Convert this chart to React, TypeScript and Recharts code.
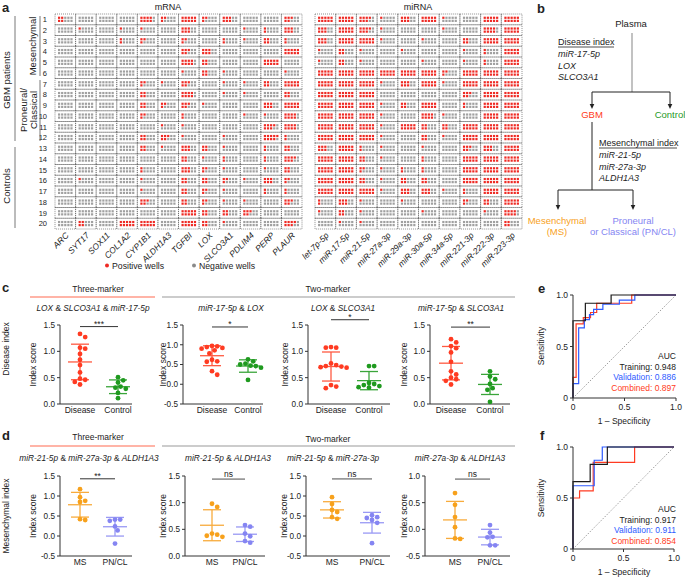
import React from 'react';
import { ScatterChart, Scatter, XAxis, YAxis, ErrorBar, ReferenceLine, LineChart, Line } from 'recharts';

const F = "'Liberation Sans', Arial, Helvetica, sans-serif";
const RED = '#ff3b22';
const RED_BAR = '#ff5a42';
const GREEN = '#1f9a1f';
const GREEN_BAR = '#3aa53a';
const ORANGE = '#f7a11c';
const ORANGE_BAR = '#f8ab3c';
const LAV = '#8585f2';
const LAV_BAR = '#9999f4';
const WELL_RED = '#ee2a24';
const WELL_GRAY = '#a0a0a0';

// ---------- Panel a data ----------
const mrnaGenes = ['ARC', 'SYT17', 'SOX11', 'COL1A2', 'CYP1B1', 'ALDH1A3', 'TGFBI', 'LOX', 'SLCO3A1', 'PDLIM4', 'PERP', 'PLAUR'];
const mirnaGenes = ['let-7p-5p', 'miR-17-5p', 'miR-21-5p', 'miR-27a-3p', 'miR-29a-3p', 'miR-30a-5p', 'miR-34a-5p', 'miR-221-3p', 'miR-222-3p', 'miR-223-3p'];
const sampleIds = [1, 2, 3, 4, 5, 6, 7, 8, 9, 10, 11, 12, 13, 14, 15, 16, 17, 18, 19, 20];
const mrnaPositive = [
  [4, 0, 0, 0, 8, 3, 10, 3, 6, 0, 0, 5],
  [0, 1, 0, 1, 1, 0, 6, 0, 0, 1, 2, 6],
  [0, 0, 0, 2, 3, 0, 3, 0, 2, 1, 4, 2],
  [0, 0, 0, 0, 0, 0, 5, 6, 0, 0, 0, 10],
  [0, 0, 0, 0, 0, 0, 8, 4, 0, 0, 10, 0],
  [0, 0, 0, 0, 0, 0, 1, 4, 1, 0, 0, 1],
  [0, 0, 0, 0, 3, 1, 5, 0, 1, 1, 4, 10],
  [0, 0, 0, 0, 4, 0, 8, 0, 1, 1, 0, 4],
  [0, 0, 0, 0, 4, 3, 5, 1, 0, 0, 6, 10],
  [0, 0, 0, 0, 3, 0, 2, 0, 0, 1, 1, 8],
  [0, 0, 0, 0, 0, 1, 1, 0, 0, 0, 7, 8],
  [0, 0, 0, 0, 4, 5, 1, 0, 1, 0, 9, 2],
  [0, 0, 0, 0, 4, 1, 6, 4, 1, 0, 2, 4],
  [0, 0, 0, 0, 0, 0, 4, 1, 2, 0, 2, 7],
  [0, 0, 0, 0, 2, 0, 6, 3, 1, 0, 1, 4],
  [0, 1, 0, 0, 1, 0, 4, 4, 3, 1, 6, 3],
  [0, 0, 0, 0, 1, 0, 4, 3, 1, 0, 2, 2],
  [0, 0, 0, 0, 5, 0, 4, 3, 1, 1, 0, 5],
  [0, 0, 0, 0, 0, 0, 10, 4, 4, 5, 0, 0],
  [0, 4, 0, 10, 10, 0, 10, 4, 1, 0, 0, 7],
];
const mirnaPositive = [
  [10, 10, 7, 1, 6, 10, 1, 0, 10, 10],
  [6, 10, 7, 1, 0, 0, 1, 0, 8, 10],
  [6, 10, 10, 1, 0, 1, 0, 4, 10, 10],
  [1, 4, 1, 0, 1, 0, 0, 1, 2, 10],
  [1, 4, 1, 0, 0, 1, 0, 1, 2, 10],
  [10, 10, 10, 10, 10, 10, 3, 10, 10, 10],
  [10, 10, 10, 1, 6, 10, 1, 10, 10, 10],
  [10, 10, 10, 0, 0, 0, 0, 5, 10, 10],
  [10, 10, 10, 1, 4, 10, 0, 2, 10, 10],
  [10, 10, 10, 1, 0, 8, 1, 0, 10, 10],
  [10, 10, 10, 1, 10, 4, 4, 10, 10, 10],
  [10, 10, 10, 1, 0, 4, 1, 10, 10, 10],
  [6, 10, 2, 1, 0, 1, 0, 5, 6, 10],
  [10, 10, 4, 1, 0, 2, 0, 10, 10, 10],
  [10, 10, 3, 1, 2, 2, 0, 10, 10, 10],
  [10, 10, 4, 1, 4, 4, 0, 10, 10, 10],
  [10, 10, 10, 1, 6, 6, 1, 2, 10, 10],
  [2, 6, 1, 0, 1, 0, 0, 3, 4, 10],
  [1, 4, 1, 0, 0, 1, 0, 0, 1, 8],
  [0, 1, 1, 0, 0, 0, 0, 0, 0, 4],
];

// ---------- Panel c / d data ----------
const diseaseNames = ['Disease', 'Control'];
const subtypeNames = ['MS', 'PN/CL'];

const c1Disease = [1.33, 1.27, 1.07, 1.05, 0.95, 0.84, 0.74, 0.6, 0.48, 0.46, 0.42, 0.37];
const c1Control = [0.51, 0.45, 0.41, 0.33, 0.31, 0.29, 0.21, 0.11];
const c2Disease = [0.97, 0.96, 0.94, 0.92, 0.9, 0.86, 0.78, 0.62, 0.58, 0.57, 0.33, 0.24];
const c2Control = [0.63, 0.58, 0.52, 0.5, 0.47, 0.46, 0.42, 0.11];
const c3Disease = [1.08, 1.07, 1.07, 0.77, 0.74, 0.72, 0.71, 0.7, 0.69, 0.36, 0.33, 0.3];
const c3Control = [0.72, 0.72, 0.4, 0.38, 0.36, 0.34, 0.32, 0.31];
const c4Disease = [1.23, 1.17, 1.1, 1.06, 0.98, 0.8, 0.62, 0.56, 0.5, 0.47, 0.44, 0.37];
const c4Control = [0.62, 0.52, 0.47, 0.38, 0.3, 0.27, 0.04];

const d1MS = [1.17, 0.97, 0.88, 0.85, 0.42, 0.4];
const d1PN = [0.41, 0.41, 0.38, 0.24, 0.14, -0.19];
const d2MS = [0.98, 0.92, 0.42, 0.4, 0.38, 0.36];
const d2PN = [0.58, 0.55, 0.42, 0.37, 0.28, 0.25];
const d3MS = [0.97, 0.8, 0.65, 0.6, 0.47, 0.43];
const d3PN = [0.52, 0.47, 0.45, 0.4, 0.33, -0.18];
const d4MS = [0.68, 0.46, 0.23, 0.04, -0.17, -0.18];
const d4PN = [0.08, -0.06, -0.14, -0.15, -0.3, -0.3];

const ticks0to15 = [0, 0.5, 1, 1.5];
const ticksM05to15 = [-0.5, 0, 0.5, 1, 1.5];
const ticksM05to10 = [-0.5, 0, 0.5, 1];

// ---------- Panel e / f data ----------
const rocTrainE = [[0, 0], [0, 0.75], [0.12, 0.75], [0.12, 0.92], [0.37, 0.92], [0.37, 1], [1, 1]];
const rocValE = [[0, 0], [0, 0.14], [0.055, 0.14], [0.055, 0.68], [0.11, 0.68], [0.11, 0.76], [0.16, 0.76], [0.16, 0.81], [0.2, 0.81], [0.2, 0.86], [0.29, 0.86], [0.29, 0.91], [0.45, 0.91], [0.45, 0.95], [0.6, 0.95], [0.6, 1], [1, 1]];
const rocCombE = [[0, 0], [0, 0.2], [0.03, 0.2], [0.03, 0.72], [0.1, 0.72], [0.1, 0.78], [0.17, 0.78], [0.17, 0.83], [0.23, 0.83], [0.23, 0.92], [0.57, 0.92], [0.57, 1], [1, 1]];
const rocTrainF = [[0, 0], [0, 0.66], [0.17, 0.66], [0.17, 0.83], [0.34, 0.83], [0.34, 1], [1, 1]];
const rocValF = [[0, 0], [0, 0.62], [0.21, 0.62], [0.21, 0.87], [0.29, 0.87], [0.29, 1], [1, 1]];
const rocCombF = [[0, 0], [0, 0.5], [0.065, 0.5], [0.065, 0.57], [0.2, 0.57], [0.2, 0.85], [0.61, 0.85], [0.61, 1], [1, 1]];
const aucE = ['0.948', '0.886', '0.897'];
const aucF = ['0.917', '0.911', '0.854'];

// ---------- helpers ----------
function swarm(vals: number[], pxPerY: number): number[] {
  const D = 4.6;
  const STEP = 2.6;
  const order = vals.map((_, i) => i).sort((a, b) => vals[b] - vals[a]);
  const placed: [number, number][] = [];
  const off = new Array(vals.length).fill(0);
  for (const i of order) {
    const y = vals[i] * pxPerY;
    let k = 0;
    let x = 0;
    while (k < 40) {
      x = (k % 2 === 1 ? 1 : -1) * Math.ceil(k / 2) * STEP;
      if (placed.every(([qx, qy]) => Math.hypot(qx - x, qy - y) >= D)) break;
      k++;
    }
    placed.push([x, y]);
    off[i] = x;
  }
  return off;
}

function meanSd(v: number[]) {
  const m = v.reduce((a, b) => a + b, 0) / v.length;
  const s = Math.sqrt(v.reduce((a, b) => a + (b - m) * (b - m), 0) / (v.length - 1));
  return { m, s };
}

function GeneTitle({ x, y, text }: { x: number; y: number; text: string }) {
  const parts = text.split(' & ');
  return (
    <text x={x} y={y} textAnchor="middle" fontSize={8.3} fill="#222" fontFamily={F}>
      {parts.map((p, i) => (
        <React.Fragment key={i}>
          {i > 0 && <tspan fontStyle="normal">{' & '}</tspan>}
          <tspan fontStyle="italic">{p}</tspan>
        </React.Fragment>
      ))}
    </text>
  );
}

// ---------- Panel a ----------
function WellGrid({ genes, counts, left, plotLeft, plotW, showRows }: { genes: string[]; counts: number[][]; left: number; plotLeft: number; plotW: number; showRows: boolean }) {
  const plotTop = 14;
  const plotH = 215;
  const H = 290;
  const W = plotLeft + plotW + 8;
  const pitchX = plotW / genes.length;
  const pitchY = plotH / sampleIds.length;
  const data: { x: number; y: number; n: number }[] = [];
  counts.forEach((row, ri) => row.forEach((n, ci) => data.push({ x: ci, y: sampleIds[ri], n })));
  const yW = 20;
  const Cell = (p: any) => {
    const { cx, cy, payload } = p;
    const dots: React.ReactNode[] = [];
    for (let c = 0; c < 5; c++) {
      for (let r = 0; r < 2; r++) {
        const idx = c * 2 + r;
        dots.push(
          <rect key={idx} x={cx - 7.3 + c * 3.1} y={cy - 2.7 + r * 3.1} width={2.2} height={2.2} fill={idx < payload.n ? WELL_RED : WELL_GRAY} />
        );
      }
    }
    return (
      <g>
        <rect x={cx - pitchX / 2} y={cy - pitchY / 2} width={pitchX} height={pitchY} fill="none" stroke="#444" strokeWidth={0.6} strokeDasharray="1 1" />
        {dots}
      </g>
    );
  };
  const Tick = (p: any) => {
    const { x, y, payload } = p;
    const tx = x + 4;
    const ty = y + 7;
    return (
      <text x={tx} y={ty} transform={`rotate(-45 ${tx} ${ty})`} textAnchor="end" fontSize={8.5} fontStyle="italic" fill="#222" fontFamily={F}>
        {genes[payload.value]}
      </text>
    );
  };
  const ticks = genes.map((_, i) => i);
  return (
    <div style={{ position: 'absolute', left, top: 0 }}>
      <ScatterChart width={W} height={H} margin={{ top: plotTop, right: 8, bottom: 0, left: showRows ? plotLeft - yW : plotLeft }}>
        <XAxis type="number" dataKey="x" domain={[-0.5, genes.length - 0.5]} ticks={ticks} interval={0} height={H - plotTop - plotH} axisLine={false} tickLine={false} tickSize={0} tickMargin={0} tick={<Tick />} />
        <YAxis type="number" dataKey="y" domain={[0.5, 20.5]} reversed ticks={sampleIds} interval={0} width={yW} hide={!showRows} axisLine={false} tickLine={false} tick={{ fontSize: 7.5, fill: '#222', fontFamily: F }} />
        <Scatter data={data} shape={<Cell />} isAnimationActive={false} />
      </ScatterChart>
    </div>
  );
}

// ---------- Panels c / d ----------
type DotCfg = {
  title: string; titleX: number; titleY: number;
  px: number; pw: number; py: number; ph: number;
  domain: [number, number]; ticks: number[];
  cats: [number, number];
  names: string[];
  groups: number[][];
  colors: string[]; barColors: string[];
  sig: string; sigY: number; ns?: boolean;
  labelX: number;
};

function DotPlot({ c }: { c: DotCfg }) {
  const padL = 42;
  const padR = 8;
  const padT = 20;
  const padB = 22;
  const yW = 26;
  const W = c.pw + padL + padR;
  const H = c.ph + padT + padB;
  const span = c.cats[1] - c.cats[0];
  const x0 = 1 - (c.cats[0] - c.px) / span;
  const x1 = 2 + (c.px + c.pw - c.cats[1]) / span;
  const pxPerY = c.ph / (c.domain[1] - c.domain[0]);
  const series = c.groups.map((vals, gi) => {
    const offs = swarm(vals, pxPerY);
    return vals.map((v, i) => ({ x: gi + 1 + offs[i] / span, y: v }));
  });
  const stats = c.groups.map((vals, gi) => {
    const { m, s } = meanSd(vals);
    return [{ x: gi + 1, y: m, sd: s }];
  });
  return (
    <div style={{ position: 'absolute', left: c.px - padL, top: c.py - padT }}>
      <ScatterChart width={W} height={H} margin={{ top: padT, right: padR, left: padL - yW, bottom: 0 }}>
        <XAxis type="number" dataKey="x" domain={[x0, x1]} ticks={[1, 2]} interval={0} tickFormatter={(v: number) => c.names[Math.round(v) - 1]} height={padB} tickSize={0} tickMargin={3} axisLine={{ stroke: '#333' }} tickLine={false} tick={{ fontSize: 8.5, fill: '#222', fontFamily: F }} />
        <YAxis type="number" dataKey="y" domain={c.domain} ticks={c.ticks} interval={0} width={yW} tickSize={3} tickMargin={2} tickFormatter={(v: number) => v.toFixed(1)} axisLine={{ stroke: '#333' }} tickLine={{ stroke: '#333' }} tick={{ fontSize: 8.2, fill: '#222', fontFamily: F }} />
        <ReferenceLine
          ifOverflow="visible"
          segment={[{ x: 1, y: c.sigY }, { x: 2, y: c.sigY }]}
          stroke={c.ns ? '#999' : '#333'}
          strokeWidth={c.ns ? 1.8 : 1}
          label={{ value: c.sig, position: 'top', offset: c.ns ? 2 : 0, fontSize: 8.5, fill: '#222', fontFamily: F }}
        />
        {stats.map((s, gi) => (
          <Scatter
            key={'m' + gi}
            data={s}
            isAnimationActive={false}
            shape={(p: any) => <line x1={p.cx - 12} x2={p.cx + 12} y1={p.cy} y2={p.cy} stroke={c.barColors[gi]} strokeWidth={1.3} />}
          >
            <ErrorBar dataKey="sd" direction="y" width={9} stroke={c.barColors[gi]} strokeWidth={1.3} />
          </Scatter>
        ))}
        {series.map((s, gi) => (
          <Scatter key={'p' + gi} data={s} isAnimationActive={false} shape={(p: any) => <circle cx={p.cx} cy={p.cy} r={2.4} fill={c.colors[gi]} />} />
        ))}
      </ScatterChart>
    </div>
  );
}

const cPlots: DotCfg[] = [
  { title: 'LOX & SLCO3A1 & miR-17-5p', titleX: 93, titleY: 311, px: 60, pw: 72, py: 325, ph: 79, domain: [0, 1.5], ticks: ticks0to15, cats: [80, 118], names: diseaseNames, groups: [c1Disease, c1Control], colors: [RED, GREEN], barColors: [RED_BAR, GREEN_BAR], sig: '***', sigY: 1.47, labelX: 34 },
  { title: 'miR-17-5p & LOX', titleX: 231, titleY: 311, px: 183, pw: 80, py: 325, ph: 79, domain: [-0.5, 1.5], ticks: ticksM05to15, cats: [212, 248], names: diseaseNames, groups: [c2Disease, c2Control], colors: [RED, GREEN], barColors: [RED_BAR, GREEN_BAR], sig: '*', sigY: 1.45, labelX: 164 },
  { title: 'LOX & SLCO3A1', titleX: 343, titleY: 311, px: 308, pw: 82, py: 325, ph: 79, domain: [0, 1.5], ticks: ticks0to15, cats: [331, 369], names: diseaseNames, groups: [c3Disease, c3Control], colors: [RED, GREEN], barColors: [RED_BAR, GREEN_BAR], sig: '*', sigY: 1.6, labelX: 286 },
  { title: 'miR-17-5p & SLCO3A1', titleX: 461, titleY: 311, px: 430, pw: 80, py: 325, ph: 79, domain: [0, 1.5], ticks: ticks0to15, cats: [451, 490], names: diseaseNames, groups: [c4Disease, c4Control], colors: [RED, GREEN], barColors: [RED_BAR, GREEN_BAR], sig: '**', sigY: 1.46, labelX: 405 },
];
const dPlots: DotCfg[] = [
  { title: 'miR-21-5p & miR-27a-3p & ALDH1A3', titleX: 89, titleY: 461, px: 60, pw: 72, py: 476, ph: 80, domain: [-0.5, 1.5], ticks: ticksM05to15, cats: [80, 115], names: subtypeNames, groups: [d1MS, d1PN], colors: [ORANGE, LAV], barColors: [ORANGE_BAR, LAV_BAR], sig: '**', sigY: 1.43, labelX: 34 },
  { title: 'miR-21-5p & ALDH1A3', titleX: 228, titleY: 461, px: 185, pw: 80, py: 476, ph: 80, domain: [0, 1.5], ticks: ticks0to15, cats: [212, 245], names: subtypeNames, groups: [d2MS, d2PN], colors: [ORANGE, LAV], barColors: [ORANGE_BAR, LAV_BAR], sig: 'ns', sigY: 1.44, ns: true, labelX: 164 },
  { title: 'miR-21-5p & miR-27a-3p', titleX: 333, titleY: 461, px: 306, pw: 84, py: 476, ph: 80, domain: [-0.5, 1.5], ticks: ticksM05to15, cats: [332, 372], names: subtypeNames, groups: [d3MS, d3PN], colors: [ORANGE, LAV], barColors: [ORANGE_BAR, LAV_BAR], sig: 'ns', sigY: 1.43, ns: true, labelX: 285 },
  { title: 'miR-27a-3p & ALDH1A3', titleX: 460, titleY: 461, px: 425, pw: 85, py: 476, ph: 80, domain: [-0.5, 1.0], ticks: ticksM05to10, cats: [455, 490], names: subtypeNames, groups: [d4MS, d4PN], colors: [ORANGE, LAV], barColors: [ORANGE_BAR, LAV_BAR], sig: 'ns', sigY: 0.94, ns: true, labelX: 405 },
];

// ---------- Panels e / f ----------
function Roc({ px, py, pw, ph, lines }: { px: number; py: number; pw: number; ph: number; lines: { pts: number[][]; color: string }[] }) {
  const padL = 30;
  const padR = 9;
  const padT = 8;
  const padB = 18;
  const yW = 22;
  const fmt = (v: number) => (v === 0 ? '0' : v.toFixed(1));
  return (
    <div style={{ position: 'absolute', left: px - padL, top: py - padT }}>
      <LineChart width={pw + padL + padR} height={ph + padT + padB} margin={{ top: padT, right: padR, left: padL - yW, bottom: 0 }}>
        <XAxis type="number" dataKey="x" domain={[0, 1]} ticks={[0, 0.5, 1]} interval={0} tickFormatter={fmt} height={padB} tickSize={3} tickMargin={3} axisLine={{ stroke: '#333' }} tickLine={{ stroke: '#333' }} tick={{ fontSize: 8.5, fill: '#222', fontFamily: F }} />
        <YAxis type="number" domain={[0, 1]} ticks={[0, 0.5, 1]} interval={0} tickFormatter={fmt} width={yW} tickSize={3} tickMargin={2} axisLine={{ stroke: '#333' }} tickLine={{ stroke: '#333' }} tick={{ fontSize: 8.5, fill: '#222', fontFamily: F }} />
        <ReferenceLine segment={[{ x: 0, y: 0 }, { x: 1, y: 1 }]} stroke="#777" strokeWidth={0.7} strokeDasharray="1.5 1.5" />
        {lines.map((l, i) => (
          <Line key={i} data={l.pts.map(([x, y]) => ({ x, y }))} dataKey="y" type="linear" stroke={l.color} strokeWidth={1.2} dot={false} isAnimationActive={false} />
        ))}
      </LineChart>
    </div>
  );
}

const ROC_BLACK = '#1a1a1a';
const ROC_BLUE = '#2f5bff';
const ROC_RED = '#ff3b22';

function Arrow({ x, y1, y2 }: { x: number; y1: number; y2: number }) {
  return (
    <g>
      <line x1={x} y1={y1} x2={x} y2={y2 - 4} stroke="#222" strokeWidth={1} />
      <polygon points={`${x - 2.3},${y2 - 5} ${x + 2.3},${y2 - 5} ${x},${y2}`} fill="#222" />
    </g>
  );
}

function Overlay() {
  const t = { fontFamily: F, fill: '#222' } as const;
  return (
    <svg width={685} height={578} style={{ position: 'absolute', left: 0, top: 0, pointerEvents: 'none' }}>
      {[['a', 2, 12], ['b', 537, 13], ['c', 2, 292], ['d', 2, 440], ['e', 538, 293], ['f', 540, 440]].map(([l, x, y]) => (
        <text key={l as string} x={x as number} y={y as number} fontSize={13} fontWeight="bold" {...t}>{l}</text>
      ))}
      <text x={168} y={10} textAnchor="middle" fontSize={9} {...t}>mRNA</text>
      <text x={418} y={10} textAnchor="middle" fontSize={9} {...t}>miRNA</text>
      <text transform="translate(10,80) rotate(-90)" textAnchor="middle" fontSize={9.5} {...t}>GBM patients</text>
      <line x1={15} y1={16} x2={15} y2={141} stroke="#555" strokeWidth={0.8} />
      <text transform="translate(10,186) rotate(-90)" textAnchor="middle" fontSize={9.5} {...t}>Controls</text>
      <line x1={15} y1={147} x2={15} y2={228} stroke="#555" strokeWidth={0.8} />
      <text transform="translate(36,46) rotate(-90)" textAnchor="middle" fontSize={9.5} {...t}>Mesenchymal</text>
      <line x1={40} y1={16} x2={40} y2={76} stroke="#555" strokeWidth={0.8} />
      <text transform="translate(27,110) rotate(-90)" textAnchor="middle" fontSize={9.5} {...t}>Proneural/</text>
      <text transform="translate(37,110) rotate(-90)" textAnchor="middle" fontSize={9.5} {...t}>Classical</text>
      <line x1={40} y1={80} x2={40} y2={141} stroke="#555" strokeWidth={0.8} />
      <circle cx={107} cy={265.5} r={2} fill={WELL_RED} />
      <text x={112} y={268.5} fontSize={8.7} {...t}>Positive wells</text>
      <circle cx={194} cy={265.5} r={2} fill="#8a8a8a" />
      <text x={199} y={268.5} fontSize={8.7} {...t}>Negative wells</text>
      <text x={631} y={27} textAnchor="middle" fontSize={9.5} {...t}>Plasma</text>
      <line x1={632} y1={33} x2={632} y2={92} stroke="#999" strokeWidth={1.2} />
      <line x1={592} y1={92} x2={670} y2={92} stroke="#222" strokeWidth={1} />
      <Arrow x={592} y1={92} y2={109} />
      <Arrow x={670} y1={92} y2={109} />
      <text x={558} y={45} fontSize={9} {...t}>Disease index</text>
      <line x1={558} y1={47} x2={614} y2={47} stroke="#222" strokeWidth={0.8} />
      <text x={558} y={57} fontSize={9} fontStyle="italic" {...t}>miR-17-5p</text>
      <text x={558} y={68.5} fontSize={9} fontStyle="italic" {...t}>LOX</text>
      <text x={558} y={80} fontSize={9} fontStyle="italic" {...t}>SLCO3A1</text>
      <text x={592} y={118} textAnchor="middle" fontSize={9.5} fontFamily={F} fill={RED}>GBM</text>
      <text x={670} y={118} textAnchor="middle" fontSize={9.5} fontFamily={F} fill={GREEN}>Control</text>
      <line x1={592} y1={122} x2={592} y2={190} stroke="#222" strokeWidth={1} />
      <text x={599} y={146} fontSize={9} {...t}>Mesenchymal index</text>
      <line x1={599} y1={148} x2={677} y2={148} stroke="#222" strokeWidth={0.8} />
      <text x={599} y={158} fontSize={9} fontStyle="italic" {...t}>miR-21-5p</text>
      <text x={599} y={169.5} fontSize={9} fontStyle="italic" {...t}>miR-27a-3p</text>
      <text x={599} y={181} fontSize={9} fontStyle="italic" {...t}>ALDH1A3</text>
      <line x1={558} y1={190} x2={633} y2={190} stroke="#222" strokeWidth={1} />
      <Arrow x={558} y1={190} y2={210} />
      <Arrow x={633} y1={190} y2={210} />
      <text x={557} y={224} textAnchor="middle" fontSize={9.5} fontFamily={F} fill={ORANGE}>Mesenchymal</text>
      <text x={557} y={235} textAnchor="middle" fontSize={9.5} fontFamily={F} fill={ORANGE}>(MS)</text>
      <text x={633} y={224} textAnchor="middle" fontSize={9.5} fontFamily={F} fill={LAV}>Proneural</text>
      <text x={633} y={235} textAnchor="middle" fontSize={9.5} fontFamily={F} fill={LAV}>or Classical (PN/CL)</text>
      <text x={98} y={292} textAnchor="middle" fontSize={8.5} {...t}>Three-marker</text>
      <line x1={30} y1={297} x2={155} y2={297} stroke="#ff6a50" strokeWidth={1.2} />
      <text x={328} y={292} textAnchor="middle" fontSize={8.5} {...t}>Two-marker</text>
      <line x1={162} y1={297} x2={515} y2={297} stroke="#999" strokeWidth={1.1} />
      <text x={98} y={440} textAnchor="middle" fontSize={8.5} {...t}>Three-marker</text>
      <line x1={30} y1={446} x2={155} y2={446} stroke="#ff6a50" strokeWidth={1.2} />
      <text x={328} y={442} textAnchor="middle" fontSize={8.5} {...t}>Two-marker</text>
      <line x1={162} y1={446} x2={515} y2={446} stroke="#999" strokeWidth={1.1} />
      <text transform="translate(9,349) rotate(-90)" textAnchor="middle" fontSize={8.5} {...t}>Disease index</text>
      <text transform="translate(9,516) rotate(-90)" textAnchor="middle" fontSize={8.5} {...t}>Mesenchymal index</text>
      {[...cPlots, ...dPlots].map((c, i) => (
        <g key={i}>
          <GeneTitle x={c.titleX} y={c.titleY} text={c.title} />
          <text transform={`translate(${c.labelX + 2},${c.py + c.ph / 2}) rotate(-90)`} textAnchor="middle" fontSize={8.5} {...t}>Index score</text>
        </g>
      ))}
      <text transform="translate(544,346) rotate(-90)" textAnchor="middle" fontSize={8.5} {...t}>Sensitivity</text>
      <text x={624} y={424} textAnchor="middle" fontSize={8.5} {...t}>1 – Specificity</text>
      <text transform="translate(544,498) rotate(-90)" textAnchor="middle" fontSize={8.5} {...t}>Sensitivity</text>
      <text x={624} y={575} textAnchor="middle" fontSize={8.5} {...t}>1 – Specificity</text>
      <text x={676} y={359} textAnchor="end" fontSize={8.5} {...t}>AUC</text>
      <text x={676} y={369.5} textAnchor="end" fontSize={8.5} {...t}>{'Training: ' + aucE[0]}</text>
      <text x={676} y={380} textAnchor="end" fontSize={8.5} fontFamily={F} fill={ROC_BLUE}>{'Validation: ' + aucE[1]}</text>
      <text x={676} y={391} textAnchor="end" fontSize={8.5} fontFamily={F} fill={ROC_RED}>{'Combined: ' + aucE[2]}</text>
      <text x={676} y={512} textAnchor="end" fontSize={8.5} {...t}>AUC</text>
      <text x={676} y={522.5} textAnchor="end" fontSize={8.5} {...t}>{'Training: ' + aucF[0]}</text>
      <text x={676} y={533} textAnchor="end" fontSize={8.5} fontFamily={F} fill={ROC_BLUE}>{'Validation: ' + aucF[1]}</text>
      <text x={676} y={544} textAnchor="end" fontSize={8.5} fontFamily={F} fill={ROC_RED}>{'Combined: ' + aucF[2]}</text>
    </svg>
  );
}

export default function App() {
  return (
    <div style={{ position: 'absolute', left: 0, top: 0, width: 685, height: 578, background: '#fff', fontFamily: F, overflow: 'hidden' }}>
      <WellGrid genes={mrnaGenes} counts={mrnaPositive} left={0} plotLeft={55} plotW={247} showRows />
      <WellGrid genes={mirnaGenes} counts={mirnaPositive} left={280} plotLeft={35} plotW={207} showRows={false} />
      {cPlots.map((c, i) => <DotPlot key={'c' + i} c={c} />)}
      {dPlots.map((c, i) => <DotPlot key={'d' + i} c={c} />)}
      <Roc px={573} py={295} pw={103} ph={103} lines={[{ pts: rocCombE, color: ROC_RED }, { pts: rocValE, color: ROC_BLUE }, { pts: rocTrainE, color: ROC_BLACK }]} />
      <Roc px={573} py={447} pw={101} ph={102} lines={[{ pts: rocCombF, color: ROC_RED }, { pts: rocValF, color: ROC_BLUE }, { pts: rocTrainF, color: ROC_BLACK }]} />
      <Overlay />
    </div>
  );
}
